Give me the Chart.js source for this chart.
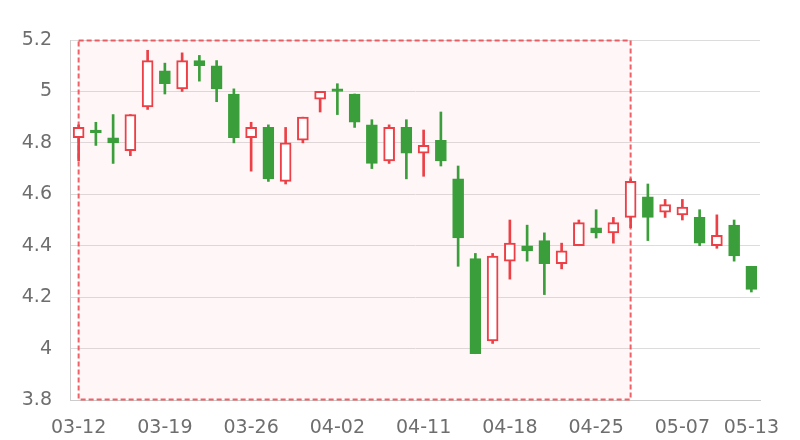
<!DOCTYPE html>
<html>
<head>
<meta charset="utf-8">
<script src="https://cdn.jsdelivr.net/npm/chart.js@4/dist/chart.umd.min.js"></script>
<style>
html,body{margin:0;padding:0;background:#fff;}
#wrap{width:800px;height:440px;}
</style>
</head>
<body>
<div id="wrap"><canvas id="c"></canvas></div>
<script>
const dates = ['03-12','03-13','03-14','03-15','03-18','03-19','03-20','03-21','03-22','03-25',
  '03-26','03-27','03-28','03-29','04-01','04-02','04-03','04-08','04-09','04-10',
  '04-11','04-12','04-15','04-16','04-17','04-18','04-19','04-22','04-23','04-24',
  '04-25','04-26','04-29','04-30','05-06','05-07','05-08','05-09','05-10','05-13'];
const opens  = [4.82,4.85,4.82,4.77,4.94,5.08,5.01,5.12,5.10,4.99,
  4.82,4.86,4.65,4.81,4.97,5.01,4.99,4.87,4.73,4.86,
  4.76,4.81,4.66,4.35,4.03,4.34,4.40,4.42,4.33,4.40,
  4.47,4.45,4.51,4.59,4.53,4.52,4.51,4.40,4.48,4.32];
const closes = [4.86,4.84,4.80,4.91,5.12,5.03,5.12,5.10,5.01,4.82,
  4.86,4.66,4.80,4.90,5.00,5.00,4.88,4.72,4.86,4.76,
  4.79,4.73,4.43,3.98,4.36,4.41,4.38,4.33,4.38,4.49,
  4.45,4.49,4.65,4.51,4.56,4.55,4.41,4.44,4.36,4.23];
const highs  = [4.87,4.88,4.91,4.91,5.16,5.11,5.15,5.14,5.12,5.01,
  4.88,4.87,4.86,4.90,5.00,5.03,4.99,4.89,4.87,4.89,
  4.85,4.92,4.71,4.37,4.37,4.50,4.48,4.45,4.41,4.50,
  4.54,4.51,4.66,4.64,4.58,4.58,4.54,4.52,4.50,4.32];
const lows   = [4.73,4.79,4.72,4.75,4.93,4.99,5.00,5.04,4.96,4.80,
  4.69,4.65,4.64,4.80,4.92,4.91,4.86,4.70,4.72,4.66,
  4.67,4.71,4.32,3.98,4.02,4.27,4.34,4.21,4.31,4.40,
  4.43,4.41,4.47,4.42,4.51,4.50,4.40,4.39,4.34,4.22];
const yTicks = [3.8,4,4.2,4.4,4.6,4.8,5,5.2];
const markStart = '03-12';
const markEnd = '04-29';

const RED = '#ec3f46';
const GREEN = '#3a9e3a';
const isUp = opens.map((o,i)=>closes[i]>o);

const markAreaPlugin = {
  id:'markArea',
  beforeDatasetsDraw(chart){
    const x = chart.scales.x, y = chart.scales.y, ctx = chart.ctx;
    const x0 = x.getPixelForValue(dates.indexOf(markStart));
    const x1 = x.getPixelForValue(dates.indexOf(markEnd));
    const y0 = y.getPixelForValue(y.max);
    const y1 = y.getPixelForValue(y.min);
    ctx.save();
    ctx.fillStyle = 'rgba(255,170,175,0.10)';
    ctx.fillRect(x0, y0, x1-x0, y1-y0);
    ctx.setLineDash([5,3]);
    ctx.lineWidth = 2;
    ctx.strokeStyle = 'rgba(236,70,76,0.85)';
    ctx.strokeRect(x0, y0+0.5, x1-x0, y1-y0-1);
    ctx.restore();
  }
};

new Chart(document.getElementById('c'), {
  type:'bar',
  data:{
    labels: dates,
    datasets:[
      {
        label:'body',
        data: opens.map((o,i)=>[Math.min(o,closes[i]), Math.max(o,closes[i])]),
        backgroundColor: isUp.map(u=>u?'#ffffff':GREEN),
        borderColor: isUp.map(u=>u?RED:GREEN),
        borderWidth: isUp.map(u=>u?2:1),
        borderSkipped:false,
        barThickness:11,
        grouped:false,
        order:0
      },
      {
        label:'wick',
        data: lows.map((l,i)=>[l, highs[i]]),
        backgroundColor: isUp.map(u=>u?RED:GREEN),
        borderWidth:0,
        barThickness:2,
        grouped:false,
        order:1
      }
    ]
  },
  options:{
    responsive:true,
    maintainAspectRatio:false,
    animation:false,
    layout:{padding:{top:40,right:40,left:0,bottom:0}},
    plugins:{legend:{display:false},tooltip:{enabled:false}},
    scales:{
      x:{
        offset:true,
        afterFit(s){ s.height = 40; },
        grid:{
          offset:true,
          drawTicks:false,
          color:(c)=> (c.index===0 || c.index===dates.length) ? '#cccccc' : 'rgba(0,0,0,0)',
          lineWidth:1
        },
        border:{display:true,color:'#cccccc'},
        ticks:{
          autoSkip:false,maxRotation:0,minRotation:0,padding:17,
          color:'#6e6e6e',
          font:{family:'DejaVu Sans',size:19},
          callback:(v,i)=> (i%5===0 || i===dates.length-1) ? dates[i] : ''
        }
      },
      y:{
        min:yTicks[0], max:yTicks[yTicks.length-1],
        afterFit(s){ s.width = 70; },
        afterBuildTicks(s){ s.ticks = yTicks.map(v=>({value:v})); },
        grid:{color:'#dcdcdc',drawTicks:false},
        border:{display:true,color:'#cccccc'},
        ticks:{
          padding:18,color:'#6e6e6e',
          font:{family:'DejaVu Sans',size:19},
          callback:(v)=> String(Math.round(v*10)/10)
        }
      }
    }
  },
  plugins:[markAreaPlugin]
});
</script>
</body>
</html>
